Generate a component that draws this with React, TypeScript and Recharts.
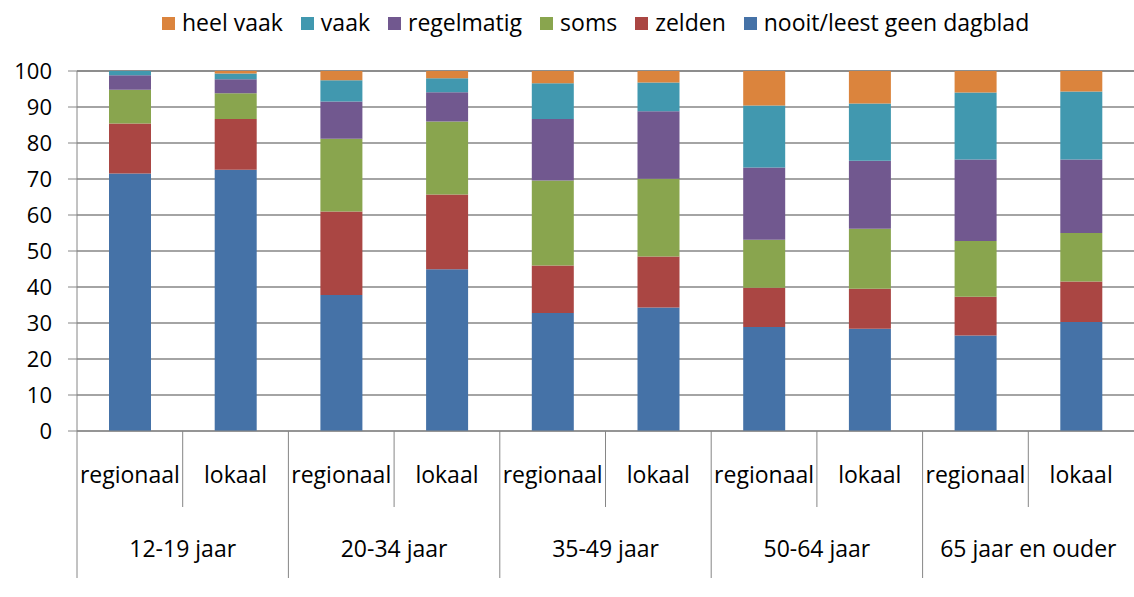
import { BarChart, Bar, XAxis, YAxis, CartesianGrid } from 'recharts';

// categories and groups
const categories = ['regionaal', 'lokaal', 'regionaal', 'lokaal', 'regionaal', 'lokaal', 'regionaal', 'lokaal', 'regionaal', 'lokaal'];
const groups = ['12-19 jaar', '20-34 jaar', '35-49 jaar', '50-64 jaar', '65 jaar en ouder'];

// stacked values, bottom to top
const nooit = [71.5, 72.6, 37.8, 44.9, 32.8, 34.3, 28.9, 28.4, 26.5, 30.3];
const zelden = [13.9, 14.1, 23.2, 20.8, 13.2, 14.2, 10.9, 11.1, 10.8, 11.2];
const soms = [9.4, 7.1, 20.2, 20.3, 23.6, 21.6, 13.3, 16.7, 15.5, 13.5];
const regelmatig = [4.0, 3.9, 10.3, 8.1, 17.1, 18.7, 20.1, 18.9, 22.6, 20.4];
const vaak = [1.2, 1.6, 5.9, 3.9, 9.9, 8.0, 17.2, 15.9, 18.6, 18.9];
const heelVaak = [0, 0.7, 2.6, 2.0, 3.4, 3.2, 9.6, 9.0, 6.0, 5.7];

const yTicks = [0, 10, 20, 30, 40, 50, 60, 70, 80, 90, 100];

const series = [
    { key: 'nooit', label: 'nooit/leest geen dagblad', color: '#4572A7', values: nooit },
    { key: 'zelden', label: 'zelden', color: '#AA4643', values: zelden },
    { key: 'soms', label: 'soms', color: '#89A54E', values: soms },
    { key: 'regelmatig', label: 'regelmatig', color: '#71588F', values: regelmatig },
    { key: 'vaak', label: 'vaak', color: '#4198AF', values: vaak },
    { key: 'heelVaak', label: 'heel vaak', color: '#DB843D', values: heelVaak },
];

const data = categories.map((name, i) => {
    const row: Record<string, number | string> = { id: i, name };
    series.forEach(s => { row[s.key] = s.values[i]; });
    return row;
});

const WIDTH = 1134;
const HEIGHT = 597;
const LEFT = 77;
const TOP = 71;
const AXIS_H = 166;
const BAND = (WIDTH - LEFT) / categories.length;
const FONT = '"Open Sans", sans-serif';
const GRAY = '#868686';

const CategoryTick = (props: any) => {
    const { x, y, index } = props;
    const left = x - BAND / 2;
    const groupStart = index % 2 === 0;
    return (
        <g>
            <line x1={left} y1={y} x2={left} y2={y + (groupStart ? 147 : 76)} stroke={GRAY} strokeWidth={1} />
            <text x={x} y={y + 43} textAnchor="middle" dominantBaseline="central" fontSize={23} fontFamily={FONT} fill="#000">
                {categories[index]}
            </text>
            {groupStart && (
                <text x={left + BAND} y={y + 117} textAnchor="middle" dominantBaseline="central" fontSize={23} fontFamily={FONT} fill="#000">
                    {groups[index / 2]}
                </text>
            )}
        </g>
    );
};

const Legend = () => (
    <div style={{ position: 'absolute', left: 162, top: 6, height: 32, display: 'flex', alignItems: 'center', fontFamily: FONT, fontSize: 23, color: '#000', whiteSpace: 'nowrap' }}>
        {[...series].reverse().map(s => (
            <div key={s.key} style={{ display: 'flex', alignItems: 'center', marginRight: 18 }}>
                <span style={{ width: 13, height: 13, background: s.color, display: 'inline-block', marginRight: 7, marginTop: 3 }} />
                <span>{s.label}</span>
            </div>
        ))}
    </div>
);

export default function App() {
    return (
        <div style={{ position: 'absolute', left: 0, top: 0, width: WIDTH, height: HEIGHT, background: '#fff' }}>
            <Legend />
            <BarChart width={WIDTH} height={HEIGHT} data={data} margin={{ top: TOP, right: 0, bottom: 0, left: 0 }}>
                <CartesianGrid vertical={false} stroke={GRAY} strokeWidth={1.3} />
                <XAxis
                    dataKey="id"
                    type="category"
                    height={AXIS_H}
                    interval={0}
                    tickLine={false}
                    tickSize={0}
                    tickMargin={0}
                    axisLine={{ stroke: GRAY }}
                    tick={<CategoryTick />}
                />
                <YAxis
                    width={LEFT}
                    domain={[0, 100]}
                    ticks={yTicks}
                    interval={0}
                    tickSize={9}
                    tickMargin={16}
                    axisLine={{ stroke: GRAY }}
                    tickLine={{ stroke: GRAY }}
                    tick={{ fontSize: 22, fontFamily: FONT, fill: '#000' }}
                />
                {series.map(s => (
                    <Bar key={s.key} dataKey={s.key} stackId="a" fill={s.color} barSize={42} isAnimationActive={false} />
                ))}
            </BarChart>
        </div>
    );
}
